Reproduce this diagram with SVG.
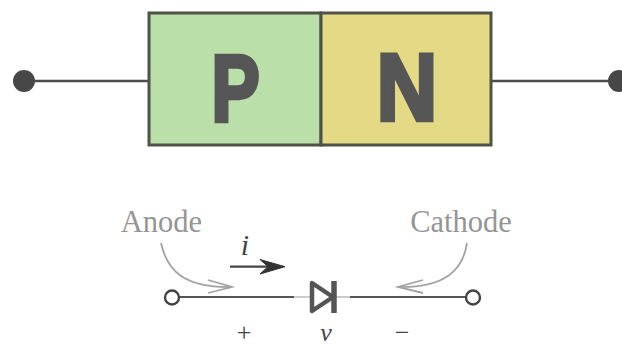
<svg xmlns="http://www.w3.org/2000/svg" width="622" height="347" viewBox="0 0 622 347">
<style>
.term{fill:#474747}
.wire{fill:none;stroke:#4d4d4d;stroke-width:2.6}
.box{stroke:#4f5347;stroke-width:3}
.big{font-family:"Liberation Sans",Arial,sans-serif;font-weight:700;font-size:95px;fill:#565656;stroke:#565656;stroke-width:4.500;text-anchor:middle}
.lab{font-family:"Liberation Serif","Times New Roman",serif;font-size:30.500px;fill:#959595;text-anchor:middle}
.sym{font-family:"Liberation Serif","Times New Roman",serif;fill:#444;text-anchor:middle}
.thin{fill:none;stroke:#555;stroke-width:2}
.faint{fill:none;stroke:#a8a8a8;stroke-width:1.200}
.call{fill:none;stroke:#a3a3a3;stroke-width:1.800}
.open{fill:#fff;stroke:#444;stroke-width:2.400}
</style>
<rect width="622" height="347" fill="#fff"/>
<g id="connectors">
<line class="wire" x1="24" y1="81" x2="149" y2="81"/>
<line class="wire" x1="491" y1="81" x2="618" y2="81"/>
<path class="thin" d="M179 297H294"/>
<path class="faint" d="M294 297H312"/>
<path class="thin" d="M350 297H465"/>
<path class="faint" d="M335 297H350"/>
<path class="call" d="M161 243C167 270 183 288 232 287M208 280L232 287L208 293"/>
<path class="call" d="M467 243C463 270 445 288 398 287M423 280L398 287L423 293"/>
<path fill="none" stroke="#444" stroke-width="2.200" d="M230 266.700H270"/>
<path fill="#333" stroke="#333" stroke-width="1" d="M260 259.500L285 266.700L260 274L268 266.700Z"/>
</g>
<g id="p-region">
<rect class="box" x="149" y="13" width="172" height="132" fill="#bbdfa8"/>
<text class="big" transform="translate(235.500 120.500) scale(.76 1)">P</text>
</g>
<g id="n-region">
<rect class="box" x="321" y="13" width="170" height="132" fill="#e4d985"/>
<text class="big" transform="translate(407 119.500) scale(.88 1)">N</text>
</g>
<g id="terminal-left"><circle class="term" cx="24" cy="81" r="11"/></g>
<g id="terminal-right"><circle class="term" cx="619" cy="81" r="11"/></g>
<g id="anode">
<text class="lab" x="161.500" y="232">Anode</text>
<circle class="open" cx="172" cy="297.500" r="7"/>
</g>
<g id="cathode">
<text class="lab" x="461" y="232">Cathode</text>
<circle class="open" cx="473" cy="297.500" r="7"/>
</g>
<g id="diode">
<path d="M312 283L333 297L312 311Z" fill="#fff" stroke="#555" stroke-width="4.500" stroke-linejoin="round"/>
<line x1="334" y1="281" x2="334" y2="313" stroke="#555" stroke-width="5.500"/>
</g>
<g id="labels">
<text class="sym" x="245" y="255" font-size="30" font-style="italic">i</text>
<text class="sym" x="244" y="341" font-size="26">+</text>
<text class="sym" x="326" y="341" font-size="26" font-style="italic">v</text>
<text class="sym" x="402" y="341" font-size="26">−</text>
</g>
</svg>
